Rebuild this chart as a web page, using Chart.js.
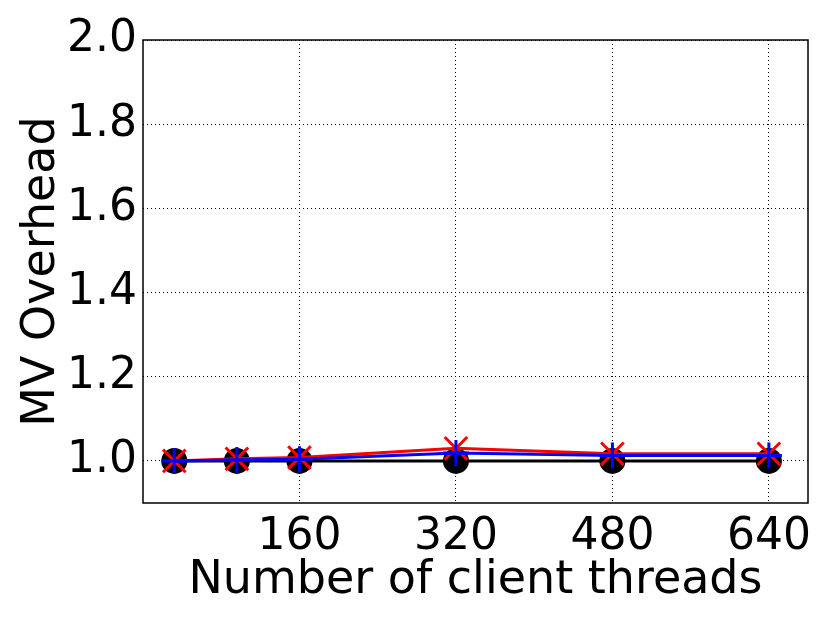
<!DOCTYPE html>
<html>
<head>
<meta charset="utf-8">
<script src="https://cdn.jsdelivr.net/npm/chart.js@4/dist/chart.umd.min.js"></script>
<style>
  html, body { margin: 0; padding: 0; background: #fff; }
  #wrap { width: 830px; height: 623px; }
</style>
</head>
<body>
<div id="wrap"><canvas id="c" width="830" height="623"></canvas></div>
<script>
const threads = [32, 96, 160, 320, 480, 640];
const baseline = [1.0, 1.0, 1.0, 1.0, 1.0, 1.0];
const redSeries = [1.0, 1.005, 1.008, 1.03, 1.017, 1.017];
const blueSeries = [1.0, 1.002, 1.004, 1.019, 1.013, 1.013];
const xTicks = [160, 320, 480, 640];
const yTicks = [1.0, 1.2, 1.4, 1.6, 1.8, 2.0];

const toPoints = (ys) => threads.map((x, i) => ({ x: x, y: ys[i] }));
const tickFont = { family: 'DejaVu Sans', size: 44 };
const titleFont = { family: 'DejaVu Sans', size: 46 };

// matplotlib-style box around the plot
const frame = {
    id: 'frame',
    afterDraw(chart) {
        const a = chart.chartArea, ctx = chart.ctx;
        ctx.save();
        ctx.strokeStyle = '#000';
        ctx.lineWidth = 1.5;
        ctx.strokeRect(a.left, a.top, a.right - a.left, a.bottom - a.top);
        ctx.restore();
    }
};

new Chart(document.getElementById('c').getContext('2d'), {
    type: 'line',
    data: {
        datasets: [
            {
                data: toPoints(blueSeries),
                borderColor: '#0000ff',
                backgroundColor: '#0000ff',
                borderWidth: 3,
                pointStyle: 'cross',
                pointRadius: 13,
                pointBorderWidth: 3,
                pointBorderColor: '#0000ff',
            },
            {
                data: toPoints(redSeries),
                borderColor: '#ff0000',
                backgroundColor: '#ff0000',
                borderWidth: 3,
                pointStyle: 'crossRot',
                pointRadius: 16,
                pointBorderWidth: 3,
                pointBorderColor: '#ff0000',
            },
            {
                data: toPoints(baseline),
                borderColor: '#000',
                backgroundColor: '#000',
                borderWidth: 3,
                pointStyle: 'circle',
                pointRadius: 13,
                pointBorderWidth: 0,
            },
        ],
    },
    options: {
        responsive: false,
        animation: false,
        layout: { padding: { top: 40, right: 22, left: 0, bottom: 0 } },
        plugins: { legend: { display: false }, tooltip: { enabled: false } },
        scales: {
            x: {
                type: 'linear',
                min: 0,
                max: 680,
                afterBuildTicks: (s) => { s.ticks = xTicks.map(v => ({ value: v })); },
                afterFit: (s) => { s.height = 120; },
                ticks: { font: tickFont, color: '#000', padding: 8, maxRotation: 0 },
                grid: { color: '#000', lineWidth: 1, drawTicks: false },
                border: { display: false, dash: [1, 3] },
                title: { display: true, text: 'Number of client threads', font: titleFont, color: '#000', padding: { top: 0, bottom: 14 } },
            },
            y: {
                min: 0.9,
                max: 2.0,
                afterBuildTicks: (s) => { s.ticks = yTicks.map(v => ({ value: v })); },
                afterFit: (s) => { s.width = 143; },
                ticks: { font: tickFont, color: '#000', padding: 6, callback: (v) => v.toFixed(1) },
                grid: { color: '#000', lineWidth: 1, drawTicks: false },
                border: { display: false, dash: [1, 3] },
                title: { display: true, text: 'MV Overhead', font: titleFont, color: '#000', padding: { top: 14, bottom: 0 } },
            },
        },
    },
    plugins: [frame],
});
</script>
</body>
</html>
